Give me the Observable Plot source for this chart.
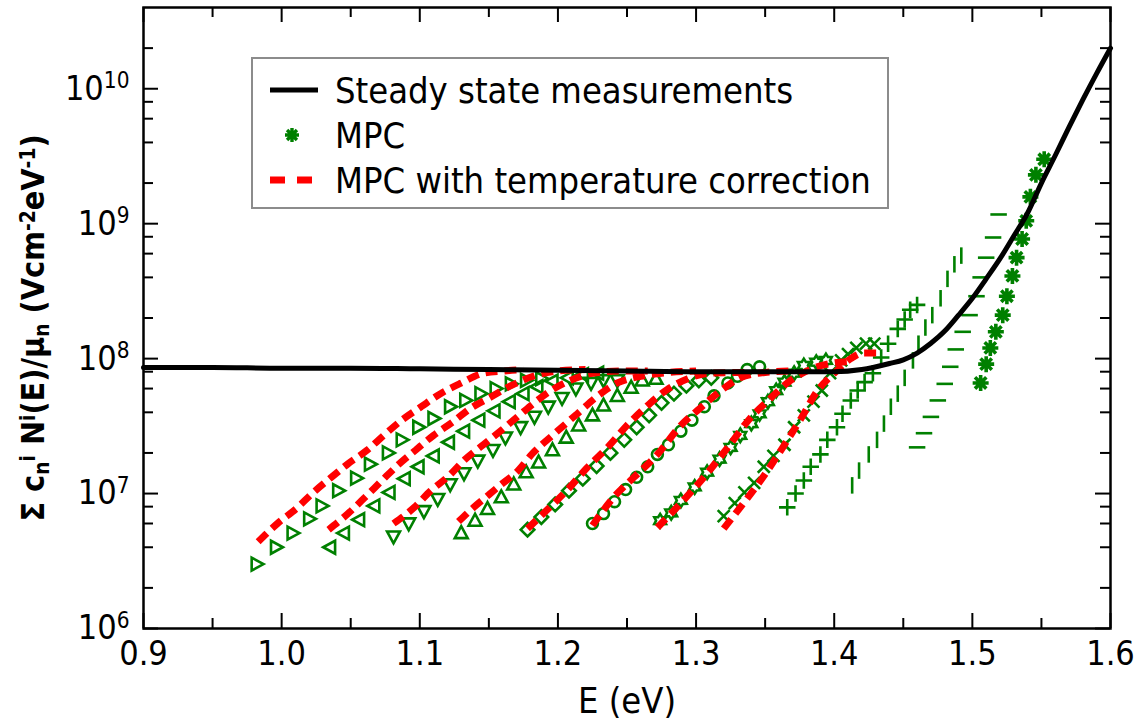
<!DOCTYPE html>
<html><head><meta charset="utf-8">
<script src="https://cdn.jsdelivr.net/npm/d3@7"></script>
<script src="https://cdn.jsdelivr.net/npm/@observablehq/plot@0.6"></script>
<style>body{margin:0;background:#fff;} #chart{width:1139px;height:725px;}</style>
</head><body><div id="chart"></div>
<script>
// ---------- data ----------
const xMajorTicks = [0.9, 1.0, 1.1, 1.2, 1.3, 1.4, 1.5, 1.6];
const xMinorTicks = [0.95, 1.05, 1.15, 1.25, 1.35, 1.45, 1.55];
const yMajorTicks = [1e6, 1e7, 1e8, 1e9, 1e10];
const yTickExponents = ["6", "7", "8", "9", "10"];
const yMinorTicks = [2e6,4e6,6e6,8e6,2e7,4e7,6e7,8e7,2e8,4e8,6e8,8e8,2e9,4e9,6e9,8e9,2e10];
const legendLabels = ["Steady state measurements", "MPC", "MPC with temperature correction"];
const xLabel = "E (eV)";

const steady = [[0.90,8.6e7],[0.95,8.6e7],[1.00,8.5e7],[1.05,8.5e7],[1.10,8.4e7],[1.15,8.3e7],[1.20,8.2e7],[1.25,8.1e7],[1.30,8.0e7],[1.35,8.0e7],[1.40,8.0e7],[1.42,8.3e7],[1.44,9.2e7],[1.45,9.8e7],[1.46,1.1e8],[1.47,1.3e8],[1.48,1.6e8],[1.49,2.1e8],[1.50,2.8e8],[1.51,3.9e8],[1.52,5.5e8],[1.53,8.1e8],[1.54,1.2e9],[1.55,2.0e9],[1.56,3.2e9],[1.57,5.2e9],[1.58,8.3e9],[1.59,1.3e10],[1.60,2.0e10]];

const mpc1 = [[0.982,3.0e6],[0.996,4.0e6],[1.008,5.1e6],[1.020,6.5e6],[1.029,8.1e6],[1.041,1.05e7],[1.054,1.3e7],[1.064,1.65e7],[1.077,2.0e7],[1.087,2.5e7],[1.099,3.1e7],[1.110,3.6e7],[1.122,4.4e7],[1.133,4.9e7],[1.144,5.5e7],[1.155,6.0e7],[1.166,6.5e7],[1.177,6.9e7],[1.188,7.1e7]];
const mpc2 = [[1.035,4.0e6],[1.045,5.1e6],[1.056,6.4e6],[1.067,8.1e6],[1.078,1.02e7],[1.089,1.29e7],[1.099,1.58e7],[1.110,1.9e7],[1.121,2.4e7],[1.132,2.9e7],[1.143,3.5e7],[1.154,4.1e7],[1.165,4.8e7],[1.175,5.5e7],[1.185,6.2e7],[1.196,6.8e7],[1.207,7.2e7],[1.218,7.6e7],[1.229,7.8e7]];
const mpc3 = [[1.081,4.8e6],[1.092,6.0e6],[1.103,7.4e6],[1.113,9.1e6],[1.122,1.17e7],[1.132,1.41e7],[1.142,1.75e7],[1.153,2.1e7],[1.162,2.6e7],[1.173,3.1e7],[1.183,3.7e7],[1.193,4.4e7],[1.203,5.1e7],[1.213,6.0e7],[1.224,6.6e7],[1.233,6.9e7],[1.243,6.9e7]];
const mpc4 = [[1.130,5.1e6],[1.140,6.3e6],[1.149,7.7e6],[1.159,9.4e6],[1.168,1.17e7],[1.177,1.44e7],[1.186,1.7e7],[1.196,2.1e7],[1.206,2.6e7],[1.215,3.2e7],[1.225,3.8e7],[1.233,4.5e7],[1.243,5.3e7],[1.253,6.1e7],[1.261,6.9e7],[1.271,7.1e7]];
const mpc5 = [[1.178,5.4e6],[1.188,6.7e6],[1.198,8.3e6],[1.208,1.05e7],[1.218,1.29e7],[1.228,1.6e7],[1.238,2.0e7],[1.248,2.5e7],[1.257,3.1e7],[1.266,3.8e7],[1.275,4.7e7],[1.284,5.5e7],[1.293,6.3e7],[1.302,6.9e7],[1.311,7.2e7]];
const mpc6 = [[1.225,6.0e6],[1.233,7.1e6],[1.241,8.7e6],[1.249,1.07e7],[1.257,1.32e7],[1.265,1.58e7],[1.272,1.95e7],[1.280,2.3e7],[1.289,2.9e7],[1.297,3.5e7],[1.306,4.4e7],[1.313,5.3e7],[1.323,6.6e7],[1.330,7.4e7],[1.337,8.3e7],[1.346,8.7e7]];
const mpc7 = [[1.274,6.3e6],[1.282,7.2e6],[1.289,8.9e6],[1.299,1.12e7],[1.308,1.44e7],[1.317,1.8e7],[1.325,2.2e7],[1.332,2.7e7],[1.340,3.3e7],[1.346,3.9e7],[1.352,4.8e7],[1.358,5.8e7],[1.364,6.7e7],[1.371,7.8e7],[1.378,8.9e7],[1.387,9.4e7],[1.394,9.7e7]];
const mpc8 = [[1.320,6.8e6],[1.328,8.5e6],[1.335,1.02e7],[1.342,1.2e7],[1.349,1.58e7],[1.356,1.9e7],[1.364,2.3e7],[1.371,3.1e7],[1.378,3.8e7],[1.385,4.8e7],[1.391,5.8e7],[1.397,7.8e7],[1.405,9.7e7],[1.410,1.08e8],[1.416,1.2e8],[1.423,1.29e8],[1.429,1.29e8]];
const mpc9 = [[1.366,7.9e6],[1.372,1.0e7],[1.378,1.25e7],[1.383,1.58e7],[1.390,1.95e7],[1.395,2.5e7],[1.402,3.1e7],[1.406,3.9e7],[1.412,4.9e7],[1.417,5.8e7],[1.422,6.7e7],[1.428,7.8e7],[1.434,1.02e8],[1.439,1.29e8],[1.446,1.66e8],[1.451,1.95e8],[1.455,2.3e8],[1.460,2.5e8]];
const mpc10 = [[1.413,1.15e7],[1.418,1.48e7],[1.425,1.95e7],[1.431,2.5e7],[1.436,3.3e7],[1.441,4.4e7],[1.446,5.5e7],[1.451,7.2e7],[1.457,9.7e7],[1.461,1.29e8],[1.466,1.7e8],[1.471,2.1e8],[1.477,2.8e8],[1.482,3.9e8],[1.487,5.0e8],[1.492,5.8e8]];
const mpc11 = [[1.460,2.2e7],[1.465,2.8e7],[1.470,3.7e7],[1.475,4.9e7],[1.480,6.5e7],[1.484,8.7e7],[1.488,1.17e8],[1.493,1.58e8],[1.498,2.1e8],[1.503,2.9e8],[1.506,4.0e8],[1.510,5.6e8],[1.515,7.9e8],[1.519,1.17e9]];
const mpc12 = [[1.506,6.6e7],[1.510,9.1e7],[1.513,1.2e8],[1.517,1.58e8],[1.522,2.1e8],[1.525,2.9e8],[1.529,4.1e8],[1.532,5.6e8],[1.536,7.7e8],[1.539,1.05e9],[1.542,1.58e9],[1.546,2.3e9],[1.552,3.0e9]];

const corr1 = [[0.983,4.4e6],[0.997,6.0e6],[1.011,7.8e6],[1.023,1.02e7],[1.036,1.32e7],[1.048,1.66e7],[1.062,2.1e7],[1.074,2.7e7],[1.087,3.5e7],[1.101,4.4e7],[1.115,5.5e7],[1.130,6.6e7],[1.146,7.8e7],[1.161,8.1e7],[1.175,8.3e7]];
const corr2 = [[1.034,5.4e6],[1.048,7.1e6],[1.060,9.3e6],[1.073,1.26e7],[1.084,1.62e7],[1.097,2.1e7],[1.110,2.7e7],[1.124,3.4e7],[1.137,4.3e7],[1.150,5.1e7],[1.166,6.3e7],[1.182,7.4e7],[1.200,8.1e7],[1.220,8.3e7]];
const corr3 = [[1.081,6.0e6],[1.096,7.9e6],[1.108,1.05e7],[1.121,1.35e7],[1.133,1.8e7],[1.146,2.3e7],[1.160,3.0e7],[1.172,3.8e7],[1.184,4.8e7],[1.195,5.8e7],[1.209,6.9e7],[1.225,7.8e7],[1.245,8.1e7],[1.265,8.1e7]];
const corr4 = [[1.128,6.2e6],[1.139,7.9e6],[1.150,9.8e6],[1.159,1.17e7],[1.170,1.44e7],[1.182,2.0e7],[1.197,2.75e7],[1.214,3.9e7],[1.231,5.5e7],[1.243,6.6e7],[1.260,7.4e7],[1.280,7.9e7],[1.300,8.1e7]];
const corr5 = [[1.178,5.5e6],[1.190,7.2e6],[1.207,1.07e7],[1.221,1.55e7],[1.236,2.2e7],[1.250,3.2e7],[1.265,4.5e7],[1.279,5.9e7],[1.294,7.1e7],[1.310,7.8e7],[1.335,7.9e7]];
const corr6 = [[1.225,5.8e6],[1.240,9.3e6],[1.255,1.32e7],[1.272,1.95e7],[1.289,3.2e7],[1.303,4.3e7],[1.318,5.8e7],[1.332,7.2e7],[1.350,7.9e7],[1.370,8.1e7]];
const corr7 = [[1.272,5.6e6],[1.289,8.5e6],[1.308,1.41e7],[1.323,2.2e7],[1.339,3.6e7],[1.354,5.1e7],[1.366,6.6e7],[1.385,8.5e7],[1.400,9.3e7],[1.410,9.5e7]];
const corr8 = [[1.320,5.5e6],[1.332,7.9e6],[1.347,1.26e7],[1.364,2.3e7],[1.376,3.6e7],[1.388,5.8e7],[1.400,7.8e7],[1.412,1.0e8],[1.421,1.1e8],[1.431,1.1e8]];

// ---------- symbols ----------
const GREEN = "#008000";
function sym(fn){ return {draw(ctx, size){ fn(ctx, Math.sqrt(size/Math.PI)); }}; }
const symTriRight = sym((c,r)=>{c.moveTo(r,0);c.lineTo(-0.75*r,-0.95*r);c.lineTo(-0.75*r,0.95*r);c.closePath();});
const symTriLeft  = sym((c,r)=>{c.moveTo(-r,0);c.lineTo(0.75*r,-0.95*r);c.lineTo(0.75*r,0.95*r);c.closePath();});
const symTriDown  = sym((c,r)=>{c.moveTo(0,r);c.lineTo(-0.95*r,-0.75*r);c.lineTo(0.95*r,-0.75*r);c.closePath();});
const symTriUp    = sym((c,r)=>{c.moveTo(0,-r);c.lineTo(-0.95*r,0.75*r);c.lineTo(0.95*r,0.75*r);c.closePath();});
const symDiamond  = sym((c,r)=>{c.moveTo(0,-r);c.lineTo(r,0);c.lineTo(0,r);c.lineTo(-r,0);c.closePath();});
const symCircle   = sym((c,r)=>{c.moveTo(0.8*r,0);c.arc(0,0,0.8*r,0,2*Math.PI);c.closePath();});
const symStar6    = sym((c,r)=>{for(let k=0;k<12;k++){const a=-Math.PI/2+k*Math.PI/6;const rr=k%2?r*0.6:r;const x=rr*Math.cos(a),y=rr*Math.sin(a);if(k)c.lineTo(x,y);else c.moveTo(x,y);}c.closePath();});
const symTimes    = sym((c,r)=>{const a=0.8*r;c.moveTo(-a,-a);c.lineTo(a,a);c.moveTo(a,-a);c.lineTo(-a,a);});
const symPlus     = sym((c,r)=>{c.moveTo(-1.1*r,0);c.lineTo(1.1*r,0);c.moveTo(0,-1.1*r);c.lineTo(0,1.1*r);});
const symVBar     = sym((c,r)=>{c.moveTo(0,-1.1*r);c.lineTo(0,1.1*r);});
const symHBar     = sym((c,r)=>{c.moveTo(-1.1*r,0);c.lineTo(1.1*r,0);});
const symAst      = sym((c,r)=>{for(let k=0;k<4;k++){const a=k*Math.PI/4;c.moveTo(-r*Math.cos(a),-r*Math.sin(a));c.lineTo(r*Math.cos(a),r*Math.sin(a));}});

const mpcSets = [mpc1,mpc2,mpc3,mpc4,mpc5,mpc6,mpc7,mpc8,mpc9,mpc10,mpc11,mpc12];
const mpcSymbols = [symTriRight,symTriLeft,symTriDown,symTriUp,symDiamond,symCircle,symStar6,symTimes,symPlus,symVBar,symHBar,symAst];
const corrSets = [corr1,corr2,corr3,corr4,corr5,corr6,corr7,corr8];
const corrData = corrSets.flatMap((arr,i)=>arr.map(([E,v])=>({E,v,s:i})));

// ---------- layout ----------
const WIDTH=1139, HEIGHT=725, ML=143, MR=29, MT=7, MB=97;
const IW = WIDTH-ML-MR, IH = HEIGHT-MT-MB;
const FONT = "'DejaVu Sans Condensed','DejaVu Sans',sans-serif";
const MAJ=15, MIN=10;

const dotMarks = mpcSets.map((arr,i)=>Plot.dot(arr,{x:d=>d[0],y:d=>d[1],symbol:mpcSymbols[i],r:i===11?8:(i>=7?7.5:6.8),stroke:GREEN,strokeWidth:i===11?3.6:2.6,fill:"none"}));

const chart = Plot.plot({
  width:WIDTH, height:HEIGHT, marginLeft:ML, marginRight:MR, marginTop:MT, marginBottom:MB,
  style:{fontFamily:FONT, background:"white", color:"black"},
  x:{domain:[0.9,1.6]},
  y:{type:"log", domain:[1e6,4e10]},
  marks:[
    ...dotMarks,
    Plot.line(corrData,{x:"E",y:"v",z:"s",stroke:"#ff0000",strokeWidth:7,strokeDasharray:"12,7",strokeLinecap:"butt",strokeLinejoin:"miter",curve:"monotone-x"}),
    Plot.line(steady,{x:d=>d[0],y:d=>d[1],stroke:"black",strokeWidth:5,curve:"monotone-x"}),
    Plot.tickX(xMajorTicks,{x:d=>d,insetTop:IH-MAJ,strokeWidth:2}),
    Plot.tickX(xMinorTicks,{x:d=>d,insetTop:IH-MIN,strokeWidth:2}),
    Plot.tickX(xMajorTicks,{x:d=>d,insetBottom:IH-MAJ,strokeWidth:2}),
    Plot.tickX(xMinorTicks,{x:d=>d,insetBottom:IH-MIN,strokeWidth:2}),
    Plot.tickY(yMajorTicks,{y:d=>d,insetRight:IW-MAJ,strokeWidth:2}),
    Plot.tickY(yMinorTicks,{y:d=>d,insetRight:IW-MIN,strokeWidth:2}),
    Plot.tickY(yMajorTicks,{y:d=>d,insetLeft:IW-MAJ,strokeWidth:2}),
    Plot.tickY(yMinorTicks,{y:d=>d,insetLeft:IW-MIN,strokeWidth:2}),
    Plot.frame({stroke:"black",strokeWidth:2.5}),
    Plot.axisX(xMajorTicks,{tickSize:0,tickPadding:12,fontSize:34,tickFormat:d=>d.toFixed(1),label:null}),
    Plot.axisY(yMajorTicks,{tickSize:0,tickPadding:14,fontSize:34,tickFormat:d=>"10^"+yTickExponents[yMajorTicks.indexOf(d)],label:null})
  ]
});
document.getElementById("chart").appendChild(chart);

// superscript tick labels
const NS="http://www.w3.org/2000/svg";
chart.querySelectorAll("text").forEach(t=>{
  if(t.textContent.includes("^")){
    const [b,e]=t.textContent.split("^");
    t.textContent=b;
    const ts=document.createElementNS(NS,"tspan");
    ts.setAttribute("dy","-0.5em"); ts.setAttribute("font-size","0.66em"); ts.textContent=e;
    t.appendChild(ts);
  }
});

const svg = d3.select(chart);
// x label
svg.append("text").attr("x",627).attr("y",700).attr("dy","0.35em").attr("text-anchor","middle")
  .attr("font-size",36).attr("font-family",FONT).attr("fill","black").text(xLabel);
// y label
const yl = svg.append("text").attr("transform","translate(33,328) rotate(-90)").attr("dy","0.35em")
  .attr("text-anchor","middle").attr("font-size",32).attr("font-weight","bold").attr("font-family",FONT).attr("fill","black");
const parts = [["Σ c",0],["n",1],["i",2],[" N",0],["i",2],["(E)/μ",0],["n",1],[" (Vcm",0],["-2",2],["eV",0],["-1",2],[")",0]];
parts.forEach(([s,k])=>{
  const ts = yl.append("tspan").text(s);
  if(k){ ts.attr("font-size","0.65em").attr("baseline-shift", k===1?"-25%":"45%"); }
});

// legend
const lg = svg.append("g").attr("font-family",FONT).attr("font-size",36);
lg.append("rect").attr("x",252).attr("y",58).attr("width",636).attr("height",150).attr("fill","white").attr("stroke","#8c8c8c").attr("stroke-width",2);
lg.append("line").attr("x1",270).attr("x2",318).attr("y1",90).attr("y2",90).attr("stroke","black").attr("stroke-width",5);
const p = d3.path(); symAst.draw(p, Math.PI*7*7);
lg.append("path").attr("d",p.toString()).attr("transform","translate(292,135)").attr("stroke",GREEN).attr("stroke-width",3.4).attr("fill","none");
lg.append("line").attr("x1",270).attr("x2",316).attr("y1",180).attr("y2",180).attr("stroke","#ff0000").attr("stroke-width",7).attr("stroke-dasharray","15,12");
[90,135,180].forEach((y,i)=>lg.append("text").attr("x",335).attr("y",y).attr("dy","0.35em").attr("text-anchor","start").attr("fill","black").text(legendLabels[i]));
</script>
</body></html>
